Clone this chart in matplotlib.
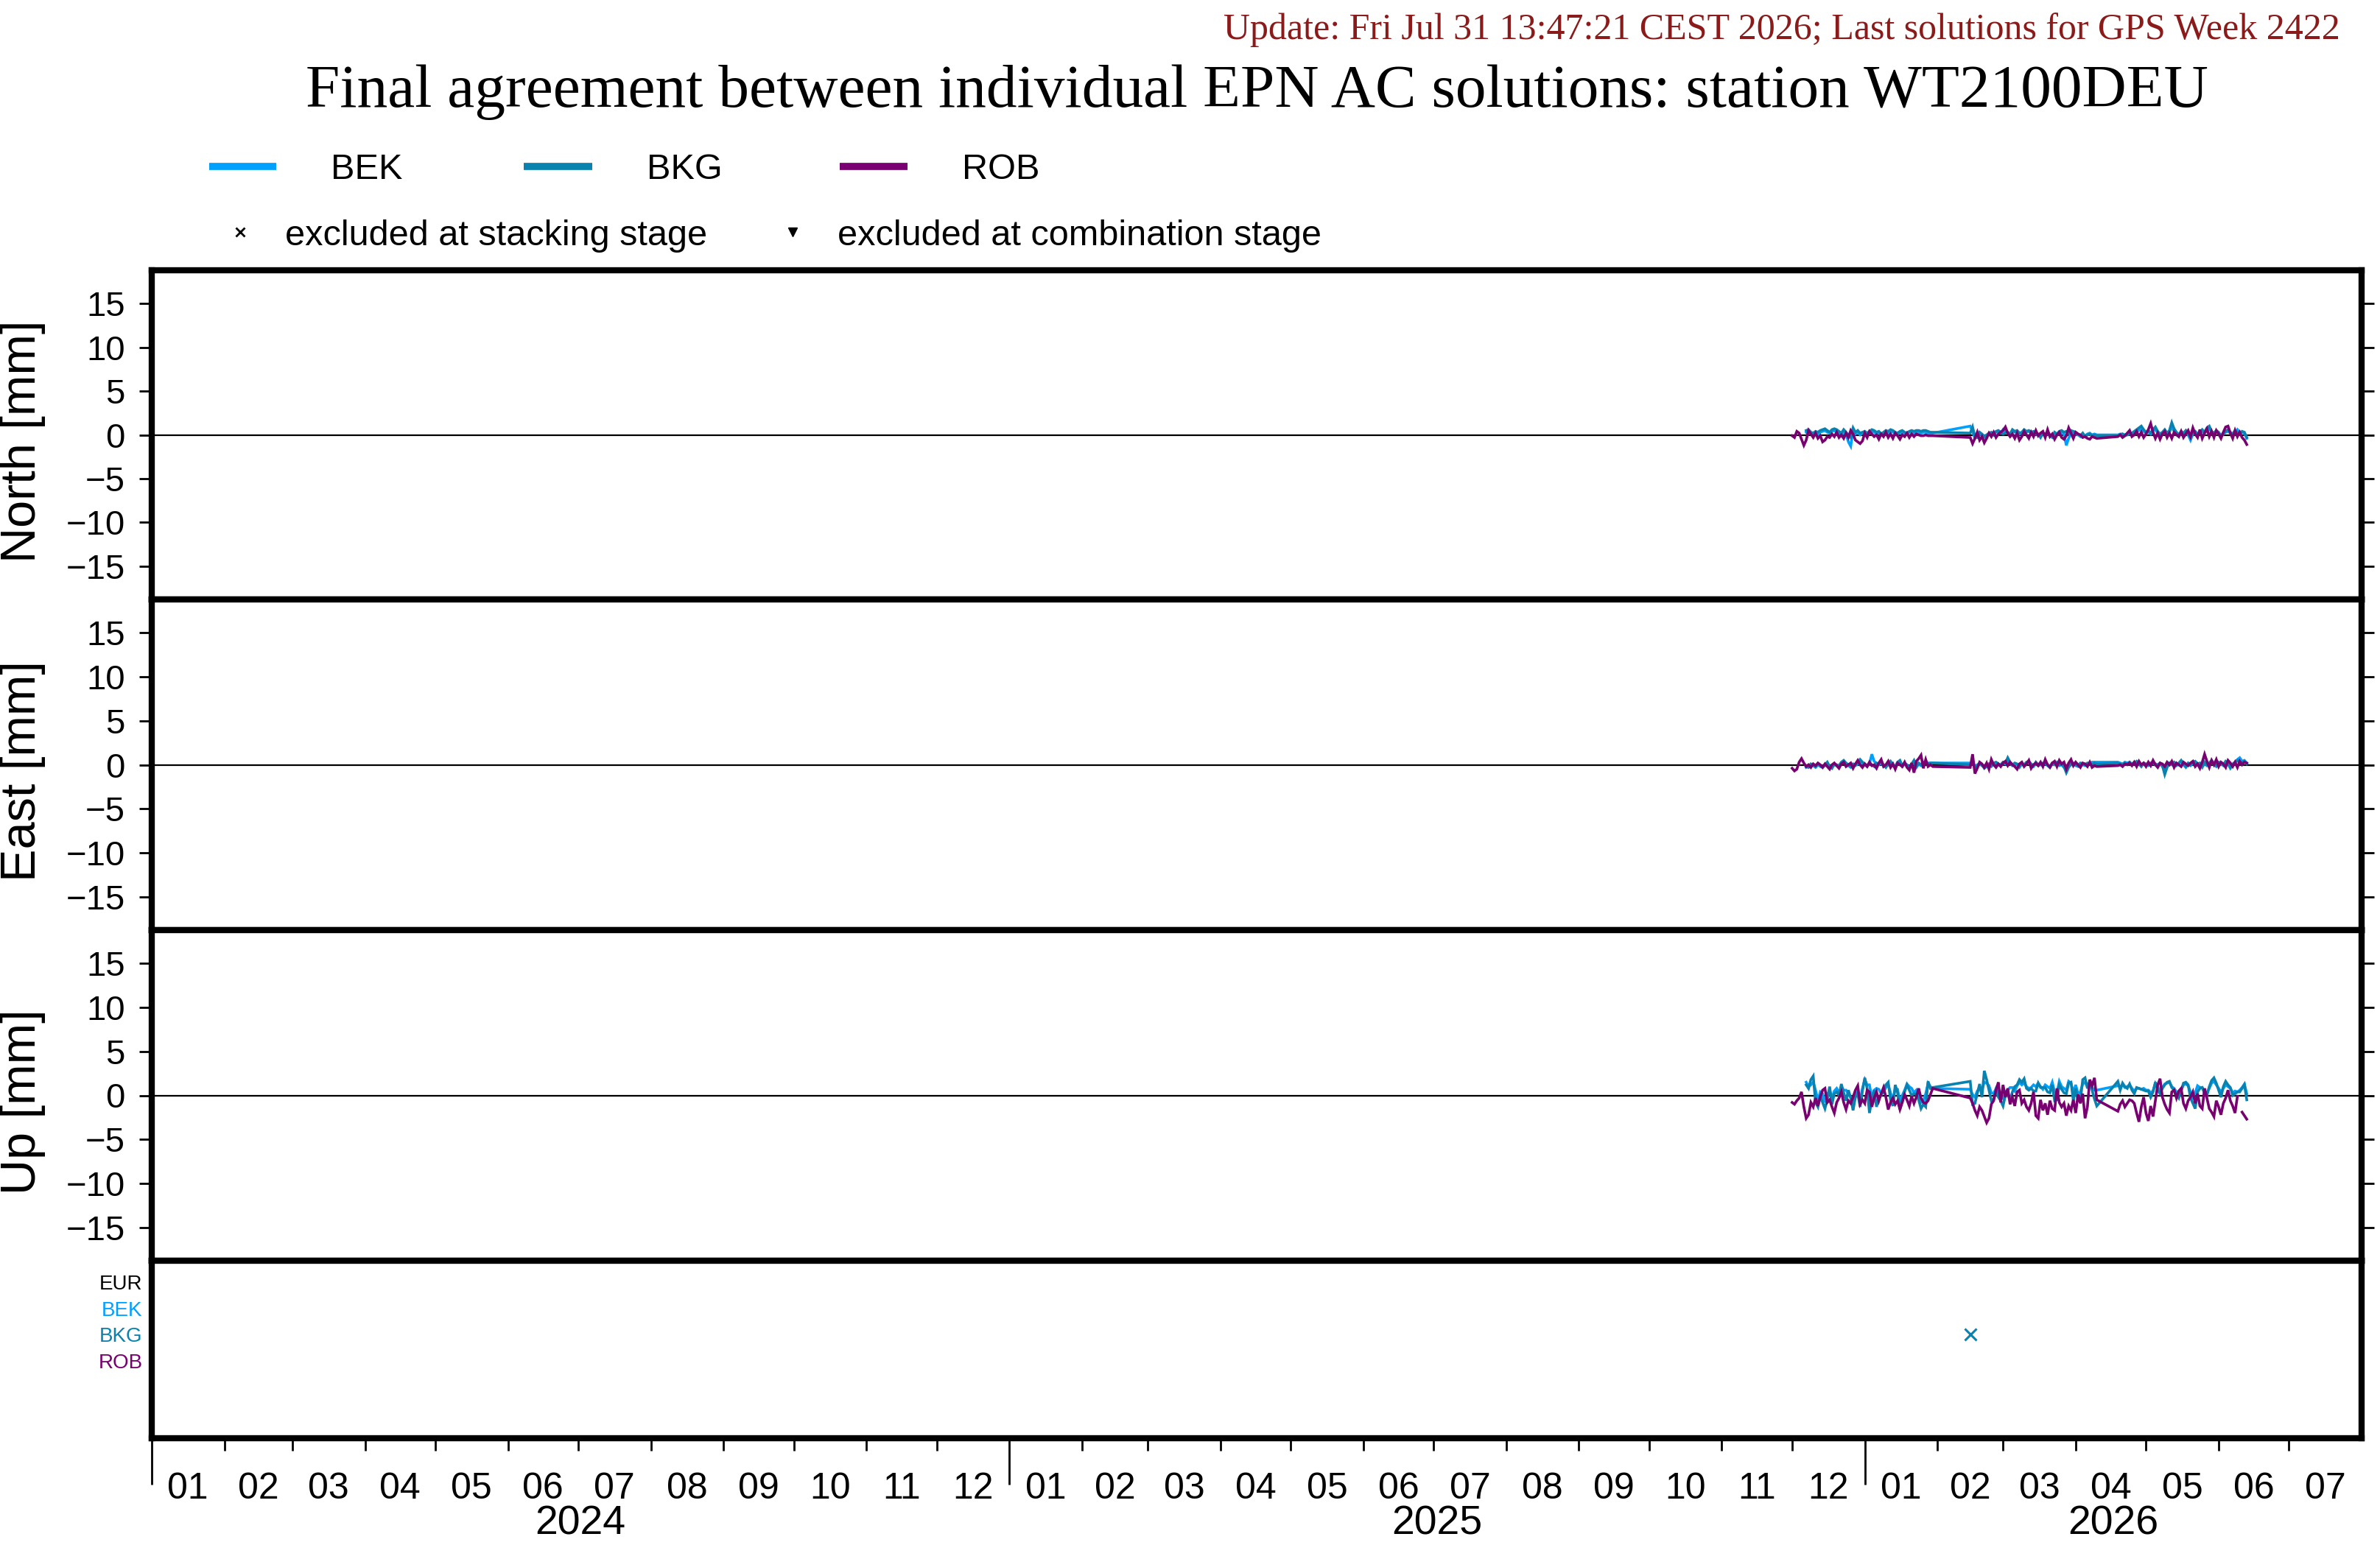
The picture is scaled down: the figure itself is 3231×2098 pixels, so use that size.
import matplotlib
matplotlib.use('Agg')
import matplotlib.pyplot as plt
import matplotlib.transforms as mtrans
from matplotlib.lines import Line2D
import numpy as np
import pandas as pd

nan = float('nan')

station = 'WT2100DEU'
update_text = 'Update: Fri Jul 31 13:47:21 CEST 2026; Last solutions for GPS Week 2422'
acs = ['BEK', 'BKG', 'ROB']
ac_colors = {'BEK': '#00a0ff', 'BKG': '#0a82b0', 'ROB': '#780070'}
row_labels = ['EUR', 'BEK', 'BKG', 'ROB']
row_colors = ['black', '#00a0ff', '#0a82b0', '#780070']

# daily solutions, three blocks of days
seg_start = ['2025-12-01', '2026-02-15', '2026-04-19']
seg_end = ['2026-01-30', '2026-04-10', '2026-06-13']

# ---- North [mm]
north_bek = [nan] * 6 + [
    0.3, 0.4, 0.2, 0.1, 0.2, 0.0, 0.3, 0.4, 0.5, 0.3,
    0.2, 0.4, 0.5, 0.3, 0.2, -0.1, 0.3, 0.1, -0.8, -1.3,
    0.5, 0.1, 0.3, 0.0, 0.2, 0.3, 0.1, 0.3, 0.4, 0.3,
    0.1, 0.2, 0.0, 0.2, 0.3, 0.2, 0.4, 0.3, 0.2, 0.1,
    0.2, 0.3, 0.2, 0.1, 0.3, 0.3, 0.2, 0.3, 0.3, 0.2,
    0.3, 0.3, 0.2, 0.2, 0.2,
    1.0, 0.4, -0.4, -0.2, 0.1, 0.0, -0.3, -0.1, 0.1, 0.2,
    0.1, 0.3, 0.4, 0.2, 0.6, 0.3, 0.2, 0.0, 0.4, 0.3,
    0.3, 0.1, 0.2, 0.4, 0.3, 0.4, 0.2, 0.3, 0.1, 0.0,
    -0.2, 0.1, 0.0, 0.2, -0.1, -0.3, 0.1, 0.0, 0.2, 0.3,
    0.1, -1.2, -0.4, 0.2, 0.2, 0.1, 0.0, -0.2, 0.1, -0.1,
    0.1, 0.2, 0.0, 0.1, 0.0,
    0.0, 0.1, 0.1, 0.0, 0.1, 0.2, 0.1, 0.3, 0.4, 0.5,
    0.7, 0.4, 0.2, 0.3, 0.1, 0.5, 0.6, 0.2, -0.3, 0.2,
    0.4, 0.1, 0.3, 0.9, 0.4, 0.1, -0.2, 0.3, 0.1, 0.3,
    0.0, -0.6, 0.1, 0.3, 0.0, 0.2, 0.4, 0.2, 0.5, 0.7,
    0.3, 0.1, 0.3, 0.2, -0.2, 0.1, 0.3, 0.4, 0.2, 0.0,
    0.3, 0.6, 0.2, 0.3, 0.2, -0.4]
north_bkg = [nan] * 6 + [
    0.5, 0.6, 0.3, 0.2, 0.4, 0.3, 0.5, 0.6, 0.7, 0.5,
    0.3, 0.6, 0.7, 0.6, 0.4, 0.2, 0.6, 0.3, 0.0, -0.3,
    0.8, 0.3, 0.5, 0.2, 0.3, 0.4, 0.2, 0.4, 0.6, 0.5,
    0.3, 0.4, 0.1, 0.3, 0.5, 0.4, 0.6, 0.5, 0.3, 0.2,
    0.4, 0.5, 0.3, 0.2, 0.4, 0.5, 0.4, 0.5, 0.5, 0.4,
    0.5, 0.5, 0.4, 0.3, 0.3,
    0.2, 0.9, -0.2, -0.3, 0.3, 0.1, -0.2, 0.0, 0.2, 0.3,
    0.0, 0.4, 0.5, 0.3, 0.1, 0.2, 0.3, 0.1, 0.6, 0.4,
    0.5, 0.2, 0.3, 0.6, 0.4, 0.5, 0.3, 0.4, 0.2, 0.1,
    -0.3, 0.2, 0.1, 0.3, 0.0, -0.2, 0.3, 0.1, 0.4, 0.5,
    0.3, 0.4, 0.2, 0.5, 0.4, 0.3, 0.1, -0.1, 0.2, -0.2,
    0.0, 0.1, -0.1, 0.0, -0.1,
    -0.1, 0.0, 0.1, -0.1, 0.0, 0.1, 0.2, 0.4, 0.6, 0.8,
    1.0, 0.6, 0.3, 0.5, 0.2, 0.6, 0.9, 0.4, 0.1, 0.3,
    0.6, 0.2, 0.5, 1.4, 0.7, 0.3, 0.0, 0.4, 0.2, 0.5,
    0.1, -0.3, 0.2, 0.4, 0.1, 0.3, 0.6, 0.3, 0.8, 1.0,
    0.4, 0.2, 0.5, 0.3, -0.1, 0.2, 0.4, 0.6, 0.3, 0.1,
    0.5, 0.3, 0.1, 0.4, 0.3, -0.3]
north_rob = [
    -0.1, -0.3, 0.4, 0.2, -0.5, -1.2, -0.6, 0.5, 0.1, -0.3,
    0.2, -0.4, -0.1, -0.8, -0.6, -0.2, -0.3, 0.1, -0.2, 0.3,
    -0.3, 0.0, -0.4, 0.2, -0.3, 0.5, 0.1, -0.6, -0.8, -1.0,
    -0.7, 0.2, -0.3, 0.4, 0.1, -0.2, 0.0, -0.5, 0.1, -0.2,
    0.3, -0.3, 0.1, -0.4, 0.2, -0.1, -0.5, 0.0, -0.2, 0.2,
    -0.3, 0.1, -0.2, 0.1, 0.0, -0.1, -0.1, 0.0, -0.1, -0.1,
    -0.1,
    -0.3, -1.0, -0.4, 0.3, -0.6, -0.2, -0.9, -0.4, 0.2, -0.2,
    0.3, -0.3, 0.1, 0.3, 0.5, 0.9, 0.2, -0.2, 0.1, -0.4,
    0.2, -0.6, -0.2, 0.4, 0.0, -0.4, 0.3, -0.2, 0.5, -0.1,
    0.2, 0.4, -0.3, 0.6, -0.2, 0.1, -0.5, 0.0, 0.3, -0.3,
    -0.5, -0.1, 0.8, 0.2, -0.4, 0.3, 0.1, 0.0, -0.3, -0.2,
    -0.4, -0.5, -0.2, -0.3, -0.4,
    -0.2, 0.0, -0.3, -0.1, 0.2, 0.5, -0.2, 0.0, 0.4, -0.2,
    0.3, -0.3, 0.1, 0.6, 1.3, 0.3, -0.4, 0.2, -0.5, 0.1,
    0.4, -0.3, 0.2, -0.4, 0.3, 0.0, -0.2, 0.4, -0.3, 0.1,
    0.5, -0.2, 0.8, 0.1, -0.3, 0.6, -0.4, 0.2, 0.7, -0.2,
    0.4, -0.3, 0.5, 0.1, -0.4, 0.3, 0.9, 1.0, 0.2, -0.4,
    0.5, -0.2, 0.3, -0.3, -0.6, -1.1]

# ---- East [mm]
east_bek = [nan] * 6 + [
    -0.3, -0.2, 0.0, -0.1, -0.3, 0.0, -0.2, -0.3, -0.1, 0.2,
    -0.3, -0.2, 0.0, -0.1, -0.2, 0.2, 0.3, 0.1, -0.1, -0.3,
    0.0, -0.1, 0.1, 0.3, 0.2, 0.0, -0.2, 0.1, 1.2, 0.4,
    0.1, 0.0, 0.2, -0.1, -0.2, 0.0, 0.2, -0.1, -0.3, 0.2,
    0.3, -0.2, 0.1, -0.1, -0.3, 0.0, 0.3, -0.3, 0.1, -0.1,
    0.2, 0.2, 0.2, 0.2, 0.2,
    0.2, 0.3, -0.2, 0.0, 0.1, -0.1, -0.3, -0.1, 0.0, -0.2,
    0.1, 0.2, 0.0, -0.1, 0.2, 0.1, 0.5, 0.2, -0.1, 0.1,
    0.0, -0.3, 0.1, -0.1, 0.2, 0.3, 0.0, -0.2, 0.2, -0.1,
    0.0, 0.1, 0.2, -0.1, -0.3, 0.1, 0.0, 0.2, -0.1, 0.0,
    -0.3, -0.6, -0.2, 0.0, 0.1, -0.1, -0.2, 0.1, 0.0, -0.1,
    0.1, 0.2, 0.3, 0.3, 0.3,
    0.3, 0.2, 0.1, 0.3, 0.2, 0.3, 0.1, 0.3, 0.3, 0.2,
    -0.1, 0.1, 0.0, -0.1, 0.1, 0.2, 0.0, -0.1, 0.1, -0.2,
    -0.6, -0.2, 0.1, 0.0, 0.2, -0.1, 0.1, 0.4, 0.0, -0.3,
    0.1, -0.1, 0.2, 0.3, 0.0, 0.1, -0.3, 0.2, -0.1, 0.1,
    0.4, 0.0, -0.2, 0.2, 0.1, -0.1, 0.3, 0.1, -0.4, 0.0,
    0.2, 0.6, 0.8, 0.4, 0.5, 0.2]
east_bkg = [nan] * 6 + [
    -0.2, -0.3, 0.1, 0.0, -0.2, 0.1, -0.1, -0.2, 0.0, 0.3,
    -0.2, -0.4, 0.1, 0.0, -0.1, 0.3, 0.5, 0.2, 0.0, -0.2,
    0.1, 0.0, 0.2, 0.6, 0.3, 0.1, -0.1, 0.2, 0.0, -0.2,
    0.2, 0.1, 0.3, 0.0, -0.3, 0.1, 0.4, 0.0, -0.2, 0.3,
    0.5, -0.1, 0.2, 0.0, -0.4, 0.1, 0.5, -0.2, 0.2, 0.0,
    0.3, 0.2, 0.1, 0.2, 0.2,
    0.0, 0.5, -0.3, -0.1, 0.2, 0.0, -0.4, -0.2, 0.1, -0.1,
    0.2, 0.3, 0.1, 0.0, 0.3, 0.2, 0.8, 0.3, 0.0, 0.2,
    0.1, -0.2, 0.2, 0.0, 0.3, 0.4, 0.1, -0.1, 0.3, 0.0,
    0.1, 0.2, 0.3, 0.0, -0.2, 0.2, 0.1, 0.3, 0.0, 0.1,
    -0.2, -0.9, -0.3, 0.1, 0.2, 0.0, -0.1, 0.2, 0.1, 0.0,
    0.2, 0.1, 0.0, 0.2, 0.1,
    0.2, 0.1, 0.0, 0.2, 0.1, 0.3, 0.0, 0.2, 0.4, 0.1,
    -0.2, 0.2, 0.1, 0.0, 0.2, 0.3, 0.1, 0.0, 0.2, -0.1,
    -1.1, -0.3, 0.2, 0.1, 0.3, 0.0, 0.2, 0.5, 0.1, -0.2,
    0.2, 0.0, 0.3, 0.4, 0.1, 0.2, -0.2, 0.3, 0.0, 0.2,
    0.5, 0.1, -0.1, 0.3, 0.2, 0.0, 0.4, 0.2, -0.3, 0.1,
    0.3, 0.5, 0.2, 0.3, 0.4, 0.1]
east_rob = [
    -0.4, -0.7, -0.5, 0.3, 0.7, 0.2, -0.2, 0.0, -0.3, 0.1,
    -0.1, 0.2, 0.0, -0.3, 0.1, -0.2, -0.5, 0.0, 0.2, -0.1,
    -0.4, 0.1, 0.3, -0.2, 0.0, 0.2, -0.4, 0.1, 0.5, 0.0,
    -0.3, 0.1, -0.2, 0.3, -0.1, 0.0, -0.4, 0.2, 0.6, -0.2,
    0.0, 0.4, -0.3, 0.1, -0.5, 0.2, 0.0, -0.2, 0.3, -0.3,
    -0.6, 0.2, -0.9, 0.4, 0.7, 1.1, -0.4, 0.6, -0.2, 0.0,
    -0.2,
    -0.3, 1.2, -1.0, -0.4, 0.3, 0.1, -0.3, 0.2, -0.5, 0.6,
    0.0, -0.3, 0.1, -0.2, 0.2, 0.4, -0.1, 0.3, 0.0, -0.2,
    -0.5, 0.1, 0.3, -0.2, 0.1, 0.5, -0.4, 0.0, 0.2, -0.1,
    0.3, -0.2, 0.6, 0.0, -0.3, 0.2, 0.4, -0.2, 0.5, 0.1,
    0.3, -0.5, 0.2, 0.6, -0.1, 0.3, 0.0, -0.3, 0.2, 0.1,
    -0.2, 0.3, -0.3, -0.1, -0.2,
    -0.1, 0.0, -0.2, 0.1, 0.0, 0.2, -0.1, 0.3, -0.2, 0.4,
    0.0, 0.2, -0.2, 0.3, -0.1, 0.5, 0.0, -0.3, 0.2, 0.1,
    -0.2, 0.3, 0.0, 0.4, -0.3, 0.2, 0.0, -0.2, 0.3, 0.1,
    -0.1, 0.2, 0.4, -0.2, 0.1, -0.4, 0.3, 1.2, 0.4, -0.3,
    0.5, 0.0, 0.6, -0.2, 0.3, 0.1, -0.3, 0.5, 0.2, -0.2,
    0.3, -0.3, 0.4, 0.0, 0.3, 0.2]

# ---- Up [mm]
up_bek = [nan] * 6 + [
    1.5, 1.0, 1.2, 1.5, 0.6, -0.6, 0.4, 0.2, -0.8, 0.1,
    0.6, -0.3, 0.5, 0.8, 0.3, 0.9, 0.6, 0.6, 0.2, -0.2,
    -0.8, 0.3, 0.4, -0.5, 0.8, 1.8, 1.2, 1.2, -0.3, 0.6,
    0.8, 0.7, 0.2, 0.4, 0.9, 1.2, 0.3, -0.6, 0.8, 0.7,
    -0.8, 0.0, 0.6, 1.3, 1.0, 0.8, 0.3, 0.6, -0.2, -0.8,
    -0.6, 0.2, 1.4, 1.0, 0.8,
    0.7, 0.1, -0.2, 0.5, 0.8, 0.6, 1.5, 1.4, 1.1, 0.3,
    0.2, 0.8, 0.3, 0.1, -0.3, 0.4, 0.6, 0.9, 0.9, 0.5,
    1.1, 1.5, 1.2, 1.4, 1.0, 0.8, 0.9, 1.2, 1.0, 1.4,
    1.0, 0.7, 1.2, 1.0, 0.8, 1.5, 0.4, 0.3, 1.6, 1.0,
    0.8, 0.6, 1.6, 1.4, 0.3, 1.2, 0.2, 0.4, 1.3, 1.5,
    1.0, 1.3, 0.9, 0.6, 0.6,
    1.1, 1.0, 1.2, 0.9, 1.0, 1.2, 0.8, 0.5, 0.8, 0.8,
    0.7, 0.8, 0.6, 0.6, 0.3, 0.5, 1.4, 1.0, 0.4, 0.9,
    1.3, 1.4, 1.5, 1.0, 0.8, 0.4, 0.2, 0.6, 1.2, 1.3,
    1.1, 0.4, -0.2, 0.3, 1.1, 0.9, 0.9, 0.4, 0.3, 0.8,
    1.4, 1.6, 1.2, 0.8, 0.4, 0.8, 1.2, 1.0, 0.8, 0.3,
    0.5, 0.4, 0.6, 0.9, 1.3, 0.2]
up_bkg = [nan] * 6 + [
    1.2, 0.8, 1.8, 2.2, -0.8, -1.3, 0.0, -0.8, -1.5, -0.5,
    1.0, -1.0, 0.2, 0.4, 0.0, 1.3, 0.3, -0.6, 0.6, -0.3,
    -1.7, -0.2, 0.2, -1.3, 0.5, 2.0, 0.8, -2.0, -0.5, 0.6,
    -1.3, -0.2, 0.0, 0.6, 1.2, 1.5, -0.5, -1.2, 1.2, 0.3,
    -1.6, -0.5, 0.4, 1.2, 0.6, 0.0, 0.2, 0.1, -0.5, -1.5,
    -1.0, -1.3, 1.6, 0.8, 0.9,
    1.6, -1.0, -0.9, 0.2, 1.3, -0.2, 2.8, 1.8, 0.6, -0.6,
    -0.4, 0.6, -0.2, -0.6, -1.2, 0.0, 0.2, -0.6, 0.4, 1.0,
    1.2, 1.8, 1.5, 1.9, 0.8, 0.6, 0.8, 0.5, 0.5, 1.4,
    0.9, 0.9, 0.9, 0.4, 0.3, 1.2, -0.6, -0.5, 1.2, 0.7,
    0.3, 0.2, 1.4, 1.5, -0.6, 0.8, -0.6, -0.6, 1.8, 2.0,
    0.8, 1.7, 0.6, -0.4, -1.2,
    1.6, 0.6, 1.4, 1.0, 0.8, 1.3, 0.6, 0.2, 0.9, 0.8,
    0.7, 0.6, 0.5, 0.5, -0.2, 0.4, 1.5, 0.6, 0.2, 0.8,
    1.2, 1.5, 1.6, 0.9, 0.6, 0.1, -0.3, 0.5, 1.4, 1.5,
    1.2, -0.3, -0.9, -1.5, 0.4, 0.8, 0.9, 0.2, 0.0, 1.0,
    1.7, 2.0, 1.4, 0.6, -0.2, 1.0, 1.6, 1.2, 0.9, 0.0,
    0.2, 0.4, 0.4, 0.8, 1.2, -0.5]
up_rob = [
    -0.8, -1.0, -0.6, -0.3, 0.4, -1.3, -2.6, -2.2, -0.8, -1.3,
    -0.3, -1.2, -0.2, 0.6, 0.8, -0.8, -0.5, -1.3, -2.0, -0.8,
    -0.3, 0.4, -0.8, -1.6, -0.6, -0.9, -0.2, 0.6, 1.1, -1.0,
    -0.5, -0.9, 0.6, 0.4, -1.3, -0.3, 0.4, -0.6, 0.2, 0.9,
    -0.2, -1.6, -0.8, -0.3, -1.0, -0.6, -1.6, -0.8, 0.1, -0.5,
    -1.2, -0.1, -0.9, -0.2, 0.8, -0.3, -0.8, -0.9, -0.6, 0.1,
    0.8,
    -0.3, -0.9, -1.7, -2.3, -1.3, -1.7, -2.4, -3.1, -2.6, -1.0,
    -0.6, 0.6, 1.5, -0.8, 1.2, -0.2, 0.8, -1.0, -0.2, -1.2,
    0.4, 0.6, -0.9, -0.5, -1.3, -1.7, -0.9, 0.4, -2.3, -2.6,
    -0.5, -1.7, -0.9, -2.2, -0.6, -1.5, -1.7, 0.8, -0.8, -1.3,
    -0.9, -2.3, -1.2, -1.7, -0.5, -2.0, 0.1, -0.9, 0.2, -2.6,
    -1.3, 1.8, 1.1, 2.0, -0.5,
    -1.8, -1.0, -0.6, -1.3, -0.9, -0.5, -0.6, -0.9, -2.0, -3.0,
    -1.3, -0.2, -2.0, -2.9, -1.2, -2.4, -0.6, 1.2, 1.9, -0.2,
    -1.0, -1.6, -2.0, 0.4, 0.6, -0.3, 0.5, 0.8, -0.9, -1.5,
    -0.6, -0.2, 0.4, -0.9, 0.2, -1.2, -1.5, 0.8, -0.3, -1.5,
    -1.9, -2.4, -0.6, -1.3, -2.2, -0.9, -0.3, 0.6, -0.6, -1.2,
    -2.0, -0.1, nan, -1.9, -2.3, -2.7]

# solutions flagged in the bottom strip
excl_dates = ['2026-02-15']
excl_ac = ['BKG']

components = ['North', 'East', 'Up']
series = {
    'North': {'BEK': north_bek, 'BKG': north_bkg, 'ROB': north_rob},
    'East': {'BEK': east_bek, 'BKG': east_bkg, 'ROB': east_rob},
    'Up': {'BEK': up_bek, 'BKG': up_bkg, 'ROB': up_rob},
}

dates = pd.DatetimeIndex(np.concatenate(
    [pd.date_range(s, e, freq='D').values for s, e in zip(seg_start, seg_end)]))
for comp in components:
    for ac in acs:
        assert len(series[comp][ac]) == len(dates), (comp, ac, len(series[comp][ac]), len(dates))

plt.rcParams['font.family'] = ['Liberation Sans', 'DejaVu Sans']

W, H = 3231, 2098
fig = plt.figure(figsize=(W / 100, H / 100), dpi=100)

x0 = pd.Timestamp('2024-01-01')
x1 = pd.Timestamp('2026-08-01')
month_starts = pd.date_range('2024-01-01', '2026-07-01', freq='MS')
year_starts = pd.to_datetime(['2024-01-01', '2025-01-01', '2026-01-01'])

tops = [367, 814, 1263, 1712]
bots = [814, 1263, 1712, 1953]
left, width = 206, 3000


def box(t, b):
    return [left / W, 1 - b / H, width / W, (b - t) / H]


axes = []
for k, comp in enumerate(components):
    ax = fig.add_axes(box(tops[k], bots[k]))
    for ac in acs:
        ax.plot(dates, series[comp][ac], color=ac_colors[ac], lw=2.6,
                solid_joinstyle='miter')
    ax.axhline(0, color='black', lw=1.6, zorder=1)
    ax.set_xlim(x0, x1)
    ax.set_ylim(-18.8, 18.8)
    ax.set_yticks([-15, -10, -5, 0, 5, 10, 15])
    ax.tick_params(axis='y', direction='out', length=12, width=2,
                   left=True, right=True, labelright=False,
                   labelsize=34, pad=14)
    ax.tick_params(axis='x', bottom=False, labelbottom=False)
    for sp in ax.spines.values():
        sp.set_linewidth(6)
    fig.text(31 / W, 1 - ((tops[k] + bots[k]) / 2 + 9) / H, comp + ' [mm]',
             rotation=90, ha='center', va='center', fontsize=48)
    axes.append(ax)

# bottom strip with the exclusion flags
axb = fig.add_axes(box(tops[3], bots[3]))
axb.set_xlim(x0, x1)
axb.set_ylim(5.94, -0.81)
axb.set_yticks(range(len(row_labels)))
axb.set_yticklabels(row_labels)
for lab, c in zip(axb.get_yticklabels(), row_colors):
    lab.set_color(c)
axb.tick_params(axis='y', length=0, labelsize=20, pad=9)
for d, ac in zip(excl_dates, excl_ac):
    axb.plot([pd.Timestamp(d)], [row_labels.index(ac)], marker='x',
             color=ac_colors[ac], ms=11, mew=2.2, ls='none')
for sp in axb.spines.values():
    sp.set_linewidth(6)

axb.set_xticks(year_starts)
axb.set_xticks(month_starts, minor=True)
axb.tick_params(axis='x', which='major', direction='out', length=45, width=2,
                labelbottom=False)
axb.tick_params(axis='x', which='minor', direction='out', length=12, width=2,
                labelbottom=False)

# month and year labels (baselines in pixels from the top)
trans = mtrans.blended_transform_factory(axb.transData, fig.transFigure)
edges = list(month_starts) + [x1]
for a, b in zip(edges[:-1], edges[1:]):
    axb.text(a + (b - a) / 2, 1 - 2035 / H, a.strftime('%m'), transform=trans,
             ha='center', va='baseline', fontsize=36)
yedges = list(year_starts) + [x1]
for a, b in zip(yedges[:-1], yedges[1:]):
    axb.text(a + (b - a) / 2, 1 - 2083 / H, str(a.year), transform=trans,
             ha='center', va='baseline', fontsize=40)

# header
fig.text(3177 / W, 1 - 53 / H, update_text, ha='right', va='baseline',
         fontsize=36, color='#8b1a1a', family='Liberation Serif')
fig.text(1706 / W, 1 - 145 / H,
         'Final agreement between individual EPN AC solutions: station ' + station,
         ha='center', va='baseline', fontsize=60, family='Liberation Serif')

# legend rows
leg_y = 1 - 226 / H
for ac, (lx0, lx1, tx) in zip(acs, [(284, 375, 449), (711, 804, 878), (1140, 1232, 1306)]):
    fig.add_artist(Line2D([lx0 / W, lx1 / W], [leg_y, leg_y], color=ac_colors[ac],
                          lw=7, transform=fig.transFigure, solid_capstyle='butt'))
    fig.text(tx / W, 1 - 243 / H, ac, ha='left', va='baseline', fontsize=35)

leg2_y = 1 - 315 / H
fig.add_artist(Line2D([326 / W], [leg2_y], marker='x', color='black', ms=9, mew=2,
                      ls='none', transform=fig.transFigure))
fig.text(387 / W, 1 - 333 / H, 'excluded at stacking stage', ha='left', va='baseline',
         fontsize=35)
fig.add_artist(Line2D([1076 / W], [leg2_y], marker='v', color='black', ms=9,
                      ls='none', transform=fig.transFigure))
fig.text(1137 / W, 1 - 333 / H, 'excluded at combination stage', ha='left', va='baseline',
         fontsize=35)

fig.savefig('out.png', dpi=100)
